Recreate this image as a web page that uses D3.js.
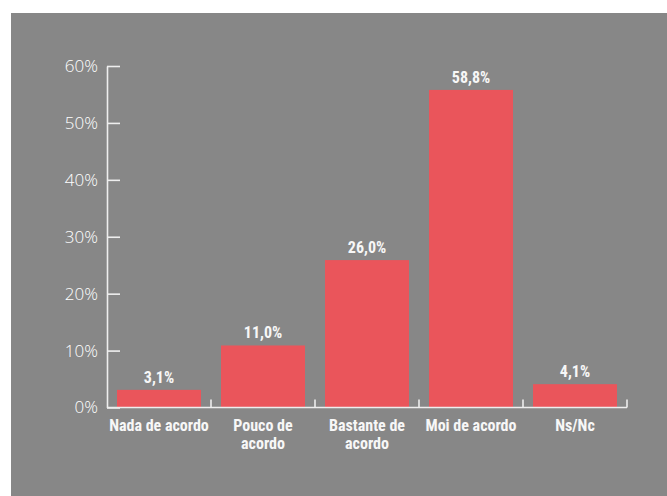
<!DOCTYPE html>
<html lang="es">
<head>
<meta charset="utf-8">
<title>Grao de acordo</title>
<script src="https://cdn.jsdelivr.net/npm/d3@7"></script>
<style>
  body { margin: 0; background: #fff; }
  .axis path, .axis line { stroke: #eeeeee; stroke-width: 1.6px; fill: none; }
  .y.axis text { font-family: "Open Sans", sans-serif; font-weight: 300; font-size: 17px; fill: #ffffff; }
  .cat { font-family: "Roboto Condensed", "Open Sans", sans-serif; font-weight: bold; font-size: 16px; fill: #f7f7f7; }
  .val { font-family: "Roboto Condensed", "Open Sans", sans-serif; font-weight: bold; font-size: 16px; fill: #f7f7f7; }
</style>
</head>
<body>
<div id="chart"></div>
<script>
// categories (line breaks as in the original)
var categories = ["Nada de acordo", "Pouco de\nacordo", "Bastante de\nacordo", "Moi de acordo", "Ns/Nc"];
// bar heights as drawn in the picture
var values = [3.1, 10.9, 25.9, 55.8, 4.1];
// printed labels over the bars
var valueLabels = ["3,1%", "11,0%", "26,0%", "58,8%", "4,1%"];
var yTicks = [0, 10, 20, 30, 40, 50, 60];

var W = 667, H = 496;
var margin = {top: 66, left: 107, right: 40, bottom: 89};
var width = 627 - margin.left, height = 407.5 - margin.top;

var svg = d3.select("#chart").append("svg")
    .attr("width", W).attr("height", H);

svg.append("rect")
    .attr("x", 11).attr("y", 13)
    .attr("width", W - 11).attr("height", H - 13)
    .attr("fill", "#878787");

var g = svg.append("g")
    .attr("transform", "translate(" + margin.left + "," + margin.top + ")");

var pad = 20 / 104;
var x = d3.scaleBand()
    .domain(categories)
    .range([0, width])
    .paddingInner(pad)
    .paddingOuter(pad / 2);

var y = d3.scaleLinear()
    .domain([0, 60])
    .range([height, 0]);

// y axis, ticks pointing inward
g.append("g")
    .attr("class", "y axis")
    .call(d3.axisLeft(y).tickValues(yTicks).tickSizeInner(-13).tickSizeOuter(0).tickPadding(9)
        .tickFormat(function(d) { return d + "%"; }));

// bars
g.selectAll(".bar")
    .data(categories)
    .enter().append("rect")
    .attr("class", "bar")
    .attr("x", function(d) { return x(d); })
    .attr("y", function(d, i) { return y(values[i]); })
    .attr("width", x.bandwidth())
    .attr("height", function(d, i) { return height - y(values[i]); })
    .attr("fill", "#ea555b");

// value labels
g.selectAll(".val")
    .data(categories)
    .enter().append("text")
    .attr("class", "val")
    .attr("x", function(d) { return x(d) + x.bandwidth() / 2; })
    .attr("y", function(d, i) { return y(values[i]) - 7; })
    .attr("text-anchor", "middle")
    .text(function(d, i) { return valueLabels[i]; });

// x axis line and boundary ticks
var xa = g.append("g").attr("class", "x axis")
    .attr("transform", "translate(0," + height + ")");
xa.append("path").attr("d", "M0,0H" + width);
var step = x.step();
xa.selectAll("line")
    .data(categories)
    .enter().append("line")
    .attr("x1", function(d) { return x(d) + x.bandwidth() + step * pad / 2; })
    .attr("x2", function(d) { return x(d) + x.bandwidth() + step * pad / 2; })
    .attr("y1", 0).attr("y2", -8);

// category labels
var cat = xa.selectAll(".cat")
    .data(categories)
    .enter().append("text")
    .attr("class", "cat")
    .attr("text-anchor", "middle")
    .attr("y", 23);
cat.selectAll("tspan")
    .data(function(d) { return d.split("\n").map(function(s) { return {s: s, c: d}; }); })
    .enter().append("tspan")
    .attr("x", function(d) { return x(d.c) + x.bandwidth() / 2; })
    .attr("dy", function(d, i) { return i === 0 ? 0 : 18; })
    .text(function(d) { return d.s; });
</script>
</body>
</html>
